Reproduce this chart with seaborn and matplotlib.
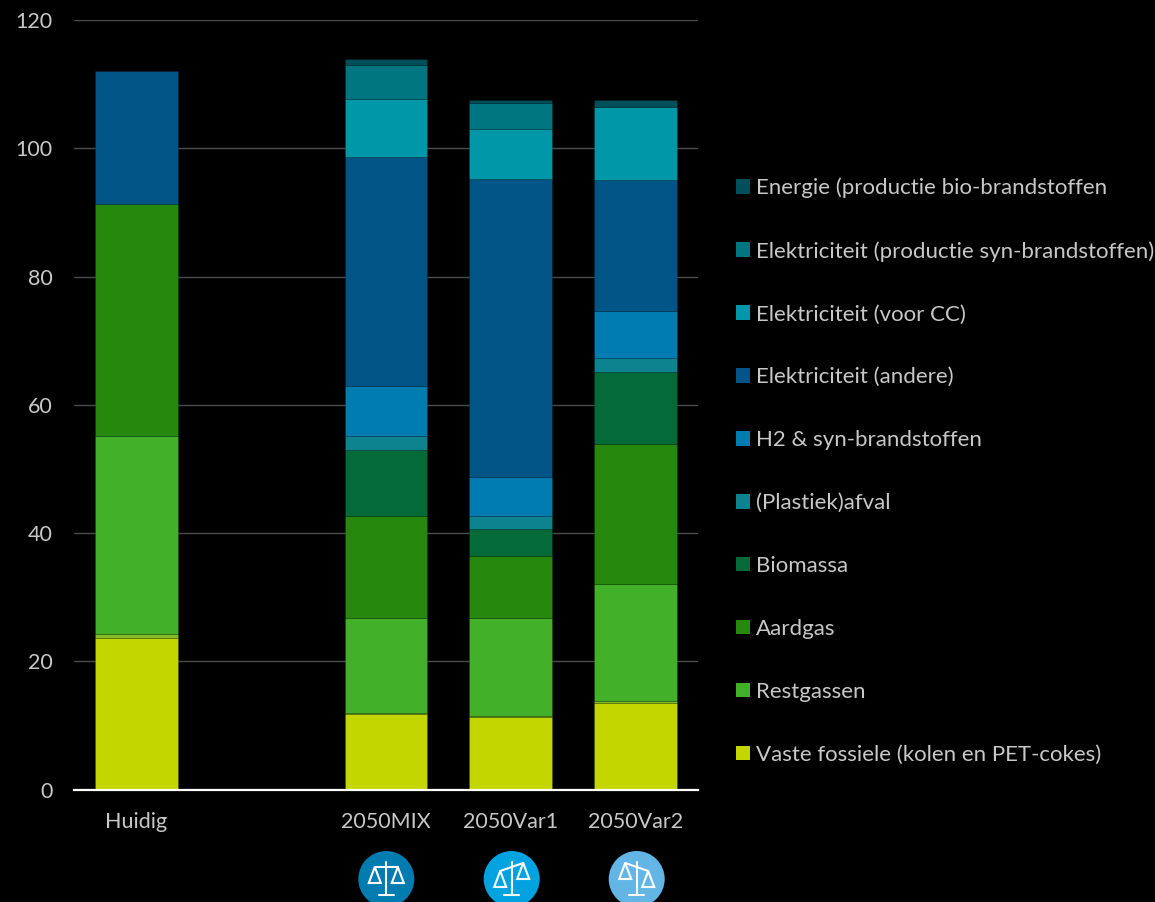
import matplotlib
matplotlib.use('Agg')
import matplotlib.pyplot as plt
import numpy as np
import seaborn as sns
from matplotlib.patches import Circle, Patch, Polygon

# (thickness of each stacked segment)
categories = ['Huidig', '', '2050MIX', '2050Var1', '2050Var2']
vaste_fossiele = [23.7, 0, 11.7, 11.3, 13.5]
sliver = [0.5, 0, 0.3, 0.2, 0.3]
restgassen = [30.9, 0, 14.7, 15.3, 18.2]
aardgas = [36.3, 0, 16.0, 9.7, 21.9]
biomassa = [0, 0, 10.3, 4.1, 11.2]
afval = [0, 0, 2.2, 2.1, 2.2]
h2_syn = [0, 0, 7.8, 6.1, 7.3]
elek_andere = [20.6, 0, 35.7, 46.4, 20.4]
elek_cc = [0, 0, 9.0, 7.9, 11.4]
elek_syn = [0, 0, 5.3, 4.0, 0.1]
energie = [0, 0, 0.9, 0.5, 1.0]

yticks = [0, 20, 40, 60, 80, 100, 120]

series = [
    ('Vaste fossiele (kolen en PET-cokes)', vaste_fossiele, '#C4D600'),
    (None, sliver, '#86BC25'),
    ('Restgassen', restgassen, '#43B02A'),
    ('Aardgas', aardgas, '#26890D'),
    ('Biomassa', biomassa, '#046A38'),
    ('(Plastiek)afval', afval, '#0D8390'),
    ('H2 & syn-brandstoffen', h2_syn, '#007CB0'),
    ('Elektriciteit (andere)', elek_andere, '#005587'),
    ('Elektriciteit (voor CC)', elek_cc, '#0097A9'),
    ('Elektriciteit (productie syn-brandstoffen)', elek_syn, '#007680'),
    ('Energie (productie bio-brandstoffen', energie, '#004F59'),
]

sns.set_style('dark', {'axes.facecolor': 'black', 'figure.facecolor': 'black'})
plt.rcParams['font.family'] = ['Lato', 'DejaVu Sans']

text_color = '#C8C8C8'
W, H = 1155, 902
fig = plt.figure(figsize=(W / 100, H / 100), dpi=100)
ax = fig.add_axes([74 / W, 1 - 789.5 / H, 624 / W, 769.3 / H])

bottom = np.zeros(len(categories))
handles = []
for label, values, color in series:
    values = np.array(values, dtype=float)
    keep = values > 0
    sns.barplot(x=np.array(categories)[keep], y=values[keep], order=categories,
                bottom=bottom[keep], color=color, saturation=1, width=0.665,
                errorbar=None, edgecolor=(0, 0, 0, 0.15), linewidth=0.6, ax=ax)
    bottom += values
    if label:
        handles.append(Patch(facecolor=color, edgecolor='none', label=label))

ax.set_xlim(-0.5, 4.5)
ax.set_ylim(0, 120)
ax.set_yticks(yticks)
ax.set_xlabel('')
ax.set_ylabel('')
ax.set_axisbelow(True)
ax.grid(axis='y', color='#4D4D4D', linewidth=1)
ax.tick_params(axis='both', length=0, labelsize=15.5, labelcolor=text_color)
ax.tick_params(axis='x', pad=16)
ax.tick_params(axis='y', pad=15.5)
for name in ['left', 'right', 'top']:
    ax.spines[name].set_visible(False)
ax.spines['bottom'].set_color('white')
ax.spines['bottom'].set_linewidth(1.6)

fig.legend(handles=handles[::-1], loc='upper left', bbox_to_anchor=(736 / W, 1 - 177.5 / H),
           bbox_transform=fig.transFigure, frameon=False, fontsize=16,
           labelcolor=text_color, handlelength=0.63, handleheight=0.63,
           handletextpad=0.27, labelspacing=1.93, borderpad=0, borderaxespad=0)

# Balance icons under the three scenarios, in pixel coordinates
over = fig.add_axes([0, 0, 1, 1], facecolor='none')
over.set_xlim(0, W)
over.set_ylim(H, 0)
over.axis('off')


def balance(cx, color, left_y, right_y):
    over.add_patch(Circle((cx, 879), 28, facecolor=color, edgecolor='none'))
    over.plot([cx, cx], [862, 895], color='white', lw=1.5)
    over.plot([cx - 7.5, cx + 7.5], [895, 895], color='white', lw=1.5)
    over.plot([cx - 11.5, cx + 11.5], [left_y, right_y], color='white', lw=1.5)
    for px, py in [(cx - 11.5, left_y), (cx + 11.5, right_y)]:
        over.add_patch(Polygon([(px, py), (px - 6, py + 16), (px + 6, py + 16)],
                               closed=True, fill=False, edgecolor='white', lw=1.5))


balance(386.3, '#007CB0', 867, 867)
balance(511.7, '#00A3E0', 871, 863)
balance(636.7, '#62B5E5', 863, 871)

fig.savefig('out.png', dpi=100, facecolor='black')
